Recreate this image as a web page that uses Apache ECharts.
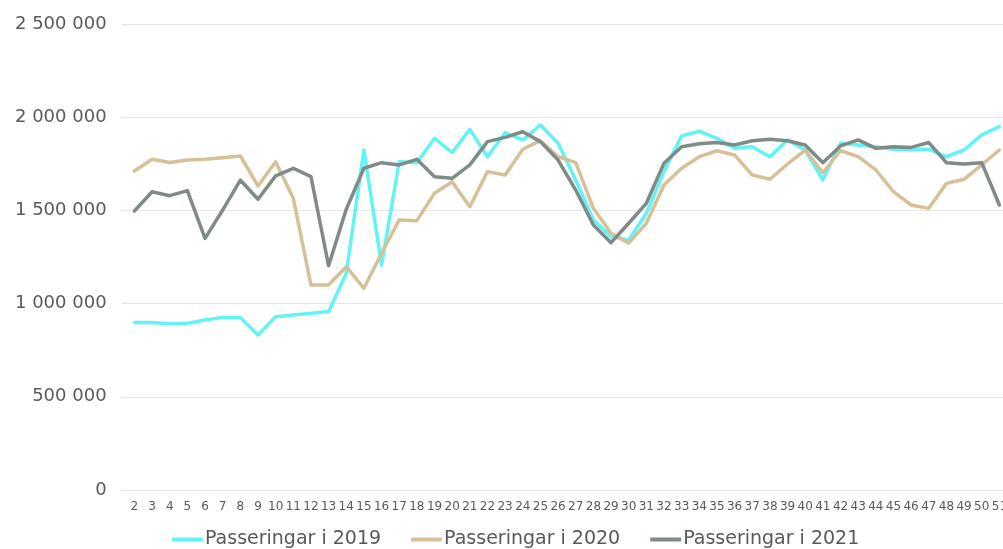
<!DOCTYPE html>
<html>
<head>
<meta charset="utf-8">
<script src="https://cdn.jsdelivr.net/npm/echarts@6/dist/echarts.min.js"></script>
<style>
html, body { margin: 0; padding: 0; background: #fff; overflow: hidden; }
#chart { width: 1010px; height: 549px; }
</style>
</head>
<body>
<div id="chart"></div>
<script>
// veckor 2..51
var weeks = [];
for (var w = 2; w <= 51; w++) weeks.push(String(w));

var pass2019 = [898000, 898000, 892000, 895000, 912000, 926000, 926000, 832000, 930000, 939000,
    948000, 957000, 1163000, 1824000, 1207000, 1761000, 1755000, 1887000, 1810000, 1935000,
    1788000, 1917000, 1878000, 1958000, 1860000, 1663000, 1449000, 1359000, 1341000, 1485000,
    1708000, 1900000, 1925000, 1887000, 1833000, 1842000, 1788000, 1878000, 1824000, 1663000,
    1860000, 1851000, 1842000, 1828000, 1824000, 1828000, 1788000, 1824000, 1905000, 1949000];

var pass2020 = [1711000, 1774000, 1757000, 1770000, 1774000, 1783000, 1792000, 1631000, 1761000, 1565000,
    1100000, 1100000, 1198000, 1082000, 1270000, 1449000, 1445000, 1592000, 1654000, 1520000,
    1708000, 1690000, 1828000, 1874000, 1788000, 1756000, 1511000, 1377000, 1324000, 1431000,
    1636000, 1726000, 1788000, 1820000, 1797000, 1690000, 1667000, 1749000, 1824000, 1702000,
    1820000, 1788000, 1717000, 1600000, 1529000, 1511000, 1645000, 1667000, 1744000, 1824000];

var pass2021 = [1497000, 1600000, 1579000, 1606000, 1350000, 1502000, 1663000, 1560000, 1685000, 1726000,
    1681000, 1203000, 1506000, 1726000, 1756000, 1744000, 1774000, 1681000, 1672000, 1744000,
    1869000, 1892000, 1922000, 1869000, 1770000, 1609000, 1422000, 1327000, 1431000, 1538000,
    1753000, 1842000, 1858000, 1864000, 1851000, 1874000, 1882000, 1874000, 1851000, 1756000,
    1846000, 1878000, 1833000, 1842000, 1838000, 1864000, 1756000, 1749000, 1756000, 1529000];

var seriesNames = ['Passeringar i 2019', 'Passeringar i 2020', 'Passeringar i 2021'];
var colors = ['#62F4F4', '#D5C198', '#7F8B89'];

var font = 'DejaVu Sans';

function spaced(v) {
    return String(v).replace(/\B(?=(\d{3})+(?!\d))/g, ' ');
}

var chart = echarts.init(document.getElementById('chart'));
var option = {
    animation: false,
    color: colors,
    grid: {
        left: 125.6,
        right: 0,
        top: 24,
        bottom: 59,
        containLabel: false
    },
    legend: {
        data: seriesNames,
        left: 167,
        top: 525,
        icon: 'roundRect',
        itemWidth: 31,
        itemHeight: 4,
        itemGap: 30,
        textStyle: {
            fontFamily: font,
            fontSize: 19,
            color: '#595959',
            padding: [0, 0, 0, -3]
        }
    },
    xAxis: {
        type: 'category',
        data: weeks,
        boundaryGap: true,
        axisLine: { lineStyle: { color: '#e3e3e3' } },
        axisTick: { show: false },
        axisLabel: {
            interval: 0,
            margin: 11,
            fontFamily: font,
            fontSize: 12,
            color: '#595959'
        }
    },
    yAxis: {
        type: 'value',
        min: 0,
        max: 2500000,
        interval: 500000,
        axisLine: { show: false },
        axisTick: { show: true, length: 4, lineStyle: { color: '#e3e3e3' } },
        splitLine: { lineStyle: { color: '#e6e6e6', width: 1 } },
        axisLabel: {
            margin: 19,
            fontFamily: font,
            fontSize: 18,
            color: '#595959',
            formatter: spaced
        }
    },
    series: [
        { name: seriesNames[0], type: 'line', data: pass2019, symbol: 'none', lineStyle: { width: 3.5, cap: 'round', join: 'round' } },
        { name: seriesNames[1], type: 'line', data: pass2020, symbol: 'none', lineStyle: { width: 3.5, cap: 'round', join: 'round' } },
        { name: seriesNames[2], type: 'line', data: pass2021, symbol: 'none', lineStyle: { width: 3.5, cap: 'round', join: 'round' } }
    ]
};
chart.setOption(option);
</script>
</body>
</html>
